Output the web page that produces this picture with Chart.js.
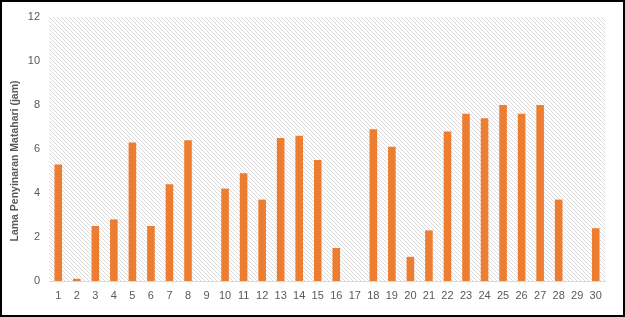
<!DOCTYPE html>
<html>
<head>
<meta charset="utf-8">
<script src="https://cdn.jsdelivr.net/npm/chart.js@4/dist/chart.umd.min.js"></script>
<style>
html,body{margin:0;padding:0;background:#fff;}
#wrap{position:relative;width:625px;height:317px;}
canvas{display:block;}
</style>
</head>
<body>
<div id="wrap"><canvas id="c" width="625" height="317"></canvas></div>
<script>
const days = ["1","2","3","4","5","6","7","8","9","10","11","12","13","14","15","16","17","18","19","20","21","22","23","24","25","26","27","28","29","30"];
const sunHours = [5.3,0.1,2.5,2.8,6.3,2.5,4.4,6.4,0,4.2,4.9,3.7,6.5,6.6,5.5,1.5,0,6.9,6.1,1.1,2.3,6.8,7.6,7.4,8.0,7.6,8.0,3.7,0,2.4];
const yTitle = "Lama Penyinaran Matahari (jam)";

function makePattern(ctx){
  const p = document.createElement('canvas');
  p.width = 4; p.height = 4;
  const g = p.getContext('2d');
  g.strokeStyle = '#dadada';
  g.lineWidth = 1;
  g.beginPath();
  g.moveTo(-1,-1); g.lineTo(5,5);
  g.moveTo(-1,3); g.lineTo(1,5);
  g.moveTo(3,-1); g.lineTo(5,1);
  g.stroke();
  return ctx.createPattern(p,'repeat');
}

const bgPlugin = {
  id:'bg',
  beforeDraw(chart){
    const ctx = chart.ctx, a = chart.chartArea;
    ctx.save();
    ctx.fillStyle = '#fff';
    ctx.fillRect(0,0,chart.width,chart.height);
    ctx.fillStyle = makePattern(ctx);
    ctx.fillRect(a.left, a.top, a.right-a.left, a.bottom-a.top);
    ctx.restore();
  },
  afterDraw(chart){
    const ctx = chart.ctx, a = chart.chartArea;
    ctx.save();
    ctx.translate(15, (a.top + a.bottom)/2 + 12);
    ctx.rotate(-Math.PI/2);
    ctx.fillStyle = '#595959';
    ctx.font = 'bold 10.5px "Liberation Sans"';
    ctx.textAlign = 'center';
    ctx.textBaseline = 'middle';
    ctx.fillText(yTitle, 0, 0);
    ctx.restore();
    ctx.save();
    ctx.strokeStyle = '#000';
    ctx.lineWidth = 2;
    ctx.strokeRect(1,1,chart.width-2,chart.height-2);
    ctx.restore();
  }
};

new Chart(document.getElementById('c'), {
  type:'bar',
  data:{
    labels: days,
    datasets:[{
      data: sunHours,
      backgroundColor:'#ED7D31',
      barPercentage:0.82,
      categoryPercentage:0.5
    }]
  },
  options:{
    responsive:false,
    animation:false,
    devicePixelRatio:1,
    layout:{padding:{left:0,top:17,right:20,bottom:0}},
    plugins:{legend:{display:false},tooltip:{enabled:false}},
    scales:{
      x:{
        grid:{display:false,drawTicks:false},
        border:{display:true,color:'#d9d9d9',width:1},
        ticks:{color:'#595959',font:{family:'Liberation Sans',size:11},padding:8,maxRotation:0,autoSkip:false},
        afterFit(s){s.height=36;}
      },
      y:{
        min:0,max:12,
        grid:{display:false,drawTicks:false},
        border:{display:false},
        ticks:{stepSize:2,color:'#595959',font:{family:'Liberation Sans',size:11},padding:9},
        afterFit(s){s.width=49;}
      }
    }
  },
  plugins:[bgPlugin]
});
</script>
</body>
</html>
